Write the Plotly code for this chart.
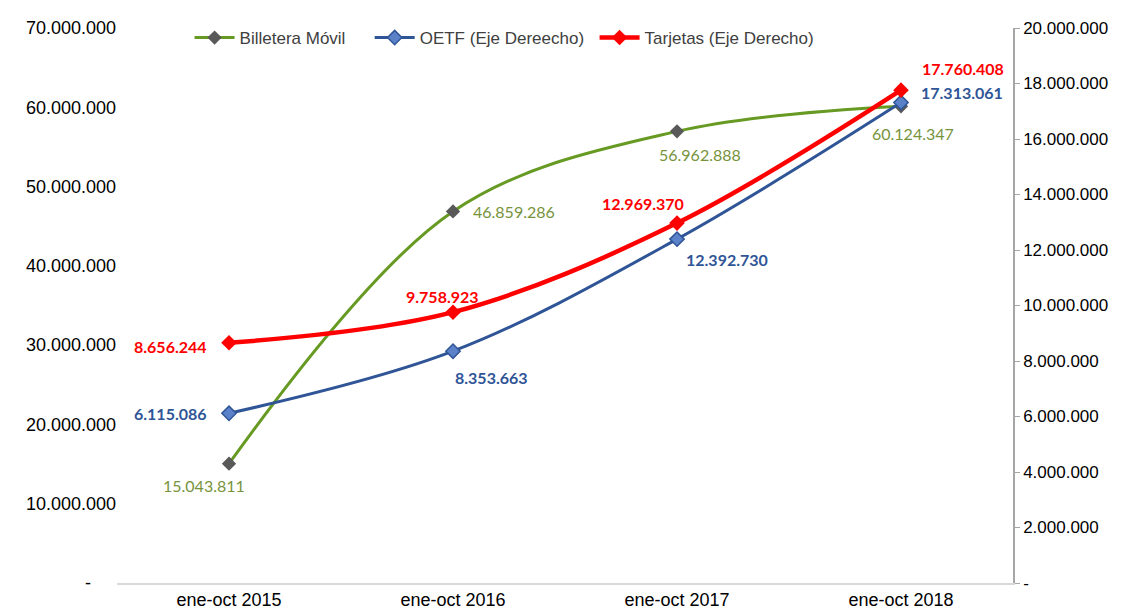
import plotly.graph_objects as go

categories = ["ene-oct 2015", "ene-oct 2016", "ene-oct 2017", "ene-oct 2018"]
billetera = [15043811, 46859286, 56962888, 60124347]
oetf = [6115086, 8353663, 12392730, 17313061]
tarjetas = [8656244, 9758923, 12969370, 17760408]

left_ticks = [0, 10e6, 20e6, 30e6, 40e6, 50e6, 60e6, 70e6]
left_ticktext = ["-\u00a0\u00a0\u00a0\u00a0\u00a0", "10.000.000", "20.000.000", "30.000.000", "40.000.000",
                 "50.000.000", "60.000.000", "70.000.000"]
right_ticks = [0, 2e6, 4e6, 6e6, 8e6, 10e6, 12e6, 14e6, 16e6, 18e6, 20e6]
right_ticktext = ["-", "2.000.000", "4.000.000", "6.000.000", "8.000.000", "10.000.000",
                  "12.000.000", "14.000.000", "16.000.000", "18.000.000", "20.000.000"]

GREEN_LINE = "#669A22"
GREEN = "#77933C"
BLUE = "#2F5597"
RED = "#FF0000"

def fmt(v):
    return f"{v:,}".replace(",", ".")

fig = go.Figure()
fig.add_trace(go.Scatter(
    x=categories, y=billetera, name="Billetera Móvil", mode="lines+markers",
    line=dict(color=GREEN_LINE, width=3, shape="spline", smoothing=1),
    marker=dict(symbol="diamond", size=11, color="#595959"),
    yaxis="y", legend="legend"))
fig.add_trace(go.Scatter(
    x=categories, y=oetf, name="OETF (Eje Dereecho)", mode="lines+markers",
    line=dict(color=BLUE, width=3, shape="spline", smoothing=1),
    marker=dict(symbol="diamond", size=11, color="#5B82C8", line=dict(color=BLUE, width=1.5)),
    yaxis="y2", legend="legend2"))
fig.add_trace(go.Scatter(
    x=categories, y=tarjetas, name="Tarjetas (Eje Derecho)", mode="lines+markers",
    line=dict(color=RED, width=4.5, shape="spline", smoothing=1),
    marker=dict(symbol="diamond", size=12, color=RED),
    yaxis="y2", legend="legend3"))

annotations = []
# (xanchor, xshift, yshift) offsets for each label
b_pos = [("center", -25, -22), ("left", 18, 0), ("center", 23, -23), ("center", 12, -27)]
o_pos = [("right", -20, 0), ("left", 0, -26), ("left", 7, -20), ("left", 18, 10)]
t_pos = [("right", -20, -4), ("center", -11, 16), ("center", -34, 20), ("left", 19, 22)]

for vals, pos, yref, color in [
        (billetera, b_pos, "y", GREEN),
        (oetf, o_pos, "y2", BLUE),
        (tarjetas, t_pos, "y2", RED)]:
    bold = color != GREEN
    for c, v, (xa, xs, ys) in zip(categories, vals, pos):
        txt = fmt(v)
        if bold:
            txt = "<b>" + txt + "</b>"
        annotations.append(dict(
            x=c, y=v, xref="x", yref=yref, text=txt, showarrow=False,
            xanchor=xa, yanchor="middle", xshift=xs, yshift=ys,
            font=dict(family="Lato", size=16, color=color)))

def legend_at(xpos):
    return dict(orientation="h", x=xpos, xanchor="left", y=0.982, yanchor="middle",
                font=dict(size=17, color="#404040"), bgcolor="rgba(0,0,0,0)",
                itemwidth=40)

# page body adds an 8px offset, so the figure is sized to fill the rest of the window
fig.update_layout(
    width=1117, height=607,
    margin=dict(l=109, r=112, t=15, b=32),
    paper_bgcolor="white", plot_bgcolor="white",
    font=dict(family="Liberation Sans, Arial", color="#000000"),
    showlegend=True,
    legend=legend_at(0.081),
    legend2=legend_at(0.282),
    legend3=legend_at(0.533),
    xaxis=dict(type="category", range=[-0.5, 3.5], showgrid=False, zeroline=False,
               showline=True, linecolor="#D9D9D9", linewidth=1.5, ticks="",
               automargin=False, tickfont=dict(size=18, color="#000000")),
    yaxis=dict(range=[0, 70e6], tickvals=left_ticks, ticktext=left_ticktext,
               showgrid=False, zeroline=False, showline=False, ticks="",
               automargin=False, tickfont=dict(size=18, color="#000000")),
    yaxis2=dict(range=[0, 20e6], tickvals=right_ticks, ticktext=right_ticktext,
                overlaying="y", side="right", showgrid=False, zeroline=False,
                showline=True, linecolor="#A6A6A6", linewidth=1.5,
                ticks="outside", ticklen=5, tickcolor="#A6A6A6", automargin=False,
                tickfont=dict(size=17, color="#000000")),
    annotations=annotations,
)

fig.write_html("out.html")
